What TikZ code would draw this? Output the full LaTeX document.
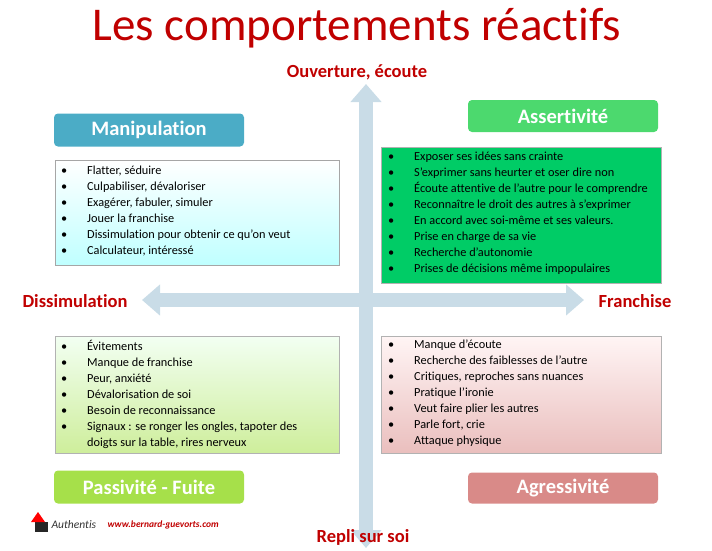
\documentclass[tikz,border=0pt]{standalone}
\usepackage{fontspec}
\setmainfont{Carlito}[Ligatures=NoCommon]
\usetikzlibrary{arrows.meta}
\definecolor{tred}{HTML}{C00000}
\definecolor{axis}{HTML}{C9DCE7}
\definecolor{manip}{HTML}{4BACC6}
\definecolor{asser}{HTML}{4CD96E}
\definecolor{asbox}{HTML}{00CC66}
\definecolor{passh}{HTML}{A6E04A}
\definecolor{aggh}{HTML}{D98A88}
\newcommand{\bl}[1]{\makebox[26pt][l]{\textbullet}#1\\}
\tikzset{
  hdr/.style={rounded corners=4pt, minimum width=190pt, minimum height=33pt, text=white, font=\bfseries\fontsize{20.5}{22}\selectfont},
  lst/.style={anchor=north west, align=left, inner sep=0pt, font=\fontsize{12.3}{16}\selectfont},
  axlab/.style={text=tred, font=\bfseries\fontsize{18.5}{20}\selectfont},
  ax/.style={axis, line width=14pt, {Triangle[width=30pt,length=18pt]}-{Triangle[width=30pt,length=18pt]}},
}
\begin{document}
\begin{tikzpicture}[x=1pt,y=-1pt]
\useasboundingbox (0,0) rectangle (712,550);
\node[text=tred, font=\fontsize{47}{52}\selectfont] (title) at (357,28) {Les comportements réactifs};
\coordinate (vt) at (366,84);
\coordinate (vb) at (366,548);
\coordinate (hl) at (142,300);
\coordinate (hr) at (584,300);
\draw[ax] (vt) -- (vb);
\draw[ax] (hl) -- (hr);
\node[axlab] (ouv) at (357,72) {Ouverture, écoute};
\node[axlab] (repli) at (363,537) {Repli sur soi};
\node[axlab] (dis) at (75,301) {Dissimulation};
\node[axlab] (fra) at (635,301) {Franchise};
% boxes
\shade[top color=white, bottom color=cyan!25, draw=gray!70] (55,160) rectangle (339,265);
\fill[asbox, draw=gray!60] (381,147) rectangle (661,283);
\shade[top color=green!5!white, bottom color=passh!55, draw=gray!60] (55,336) rectangle (339,453);
\shade[top color=red!4!white, bottom color=aggh!55, draw=gray!60] (381,336) rectangle (661,453);
\node[lst] (l1) at (61,166) {\bl{Flatter, séduire}\bl{Culpabiliser, dévaloriser}\bl{Exagérer, fabuler, simuler}\bl{Jouer la franchise}\bl{Dissimulation pour obtenir ce qu’on veut}\bl{Calculateur, intéressé}};
\node[lst] (l2) at (388,152) {\bl{Exposer ses idées sans crainte}\bl{S’exprimer sans heurter et oser dire non}\bl{Écoute attentive de l’autre pour le comprendre}\bl{Reconnaître le droit des autres à s’exprimer}\bl{En accord avec soi-même et ses valeurs.}\bl{Prise en charge de sa vie}\bl{Recherche d’autonomie}\bl{Prises de décisions même impopulaires}};
\node[lst] (l3) at (61,340) {\bl{Évitements}\bl{Manque de franchise}\bl{Peur, anxiété}\bl{Dévalorisation de soi}\bl{Besoin de reconnaissance}\bl{Signaux : se ronger les ongles, tapoter des}\makebox[26pt]{}doigts sur la table, rires nerveux};
\node[lst] (l4) at (388,340) {\bl{Manque d’écoute}\bl{Recherche des faiblesses de l’autre}\bl{Critiques, reproches sans nuances}\bl{Pratique l’ironie}\bl{Veut faire plier les autres}\bl{Parle fort, crie}\bl{Attaque physique}};
% headers
\node[hdr, fill=manip] (h1) at (149,130) {Manipulation};
\node[hdr, fill=asser, minimum height=32pt] (h2) at (563,116) {Assertivité};
\node[hdr, fill=passh] (h3) at (149,487) {Passivité - Fuite};
\node[hdr, fill=aggh, minimum height=31pt] (h4) at (563,488) {Agressivité};
% logo
\fill[black!85] (35,522) rectangle (48,532);
\fill[red] (31,522) -- (38,512) -- (45,522) -- cycle;
\node[anchor=west, font=\itshape\fontsize{11.5}{12}\selectfont, text=black!80] (auth) at (48,525) {Authentis};
\node[anchor=west, font=\bfseries\itshape\fontsize{9.5}{11}\selectfont, text=tred] (web) at (104,525) {www.bernard-guevorts.com};
\end{tikzpicture}
\end{document}
